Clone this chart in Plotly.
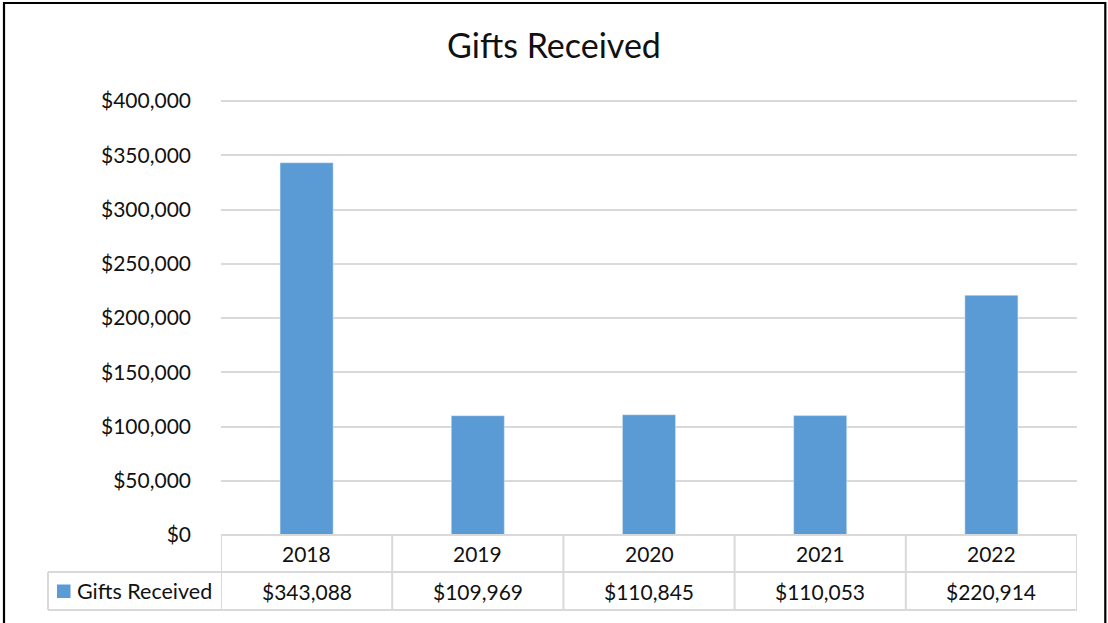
import plotly.graph_objects as go

years = ["2018", "2019", "2020", "2021", "2022"]
gifts = [343088, 109969, 110845, 110053, 220914]
series_name = "Gifts Received"
y_ticks = [0, 50000, 100000, 150000, 200000, 250000, 300000, 350000, 400000]
y_tick_labels = [f"${v:,}" for v in y_ticks]

W, H = 1108, 623
L, R, T, B = 221, 1077, 96, 535
PW, PH = R - L, B - T
BAR = "#5B9BD5"
GRID = "#D9D9D9"
FONT = "Lato"
TXT = "#111111"
# headroom so the top gridline (at pixel 101) is drawn fully
Y_TOP = y_ticks[-1] * PH / (B - 101)


def px_x(px):
    return (px - L) / PW


def px_y(py):
    return (B - py) / PH


cats = list(range(len(years)))

fig = go.Figure()
fig.add_trace(go.Bar(x=cats, y=gifts, marker_color=BAR, width=0.31,
                     name=series_name, showlegend=False, hoverinfo="skip"))

shapes = []
line = dict(color=GRID, width=2)
shapes.append(dict(type="line", xref="x", yref="paper", x0=-0.5, x1=len(years) - 0.5,
                   y0=px_y(535), y1=px_y(535), line=line))
for py in (572, 610):
    shapes.append(dict(type="line", xref="paper", yref="paper", x0=px_x(48), x1=1,
                       y0=px_y(py), y1=px_y(py), line=line))
for i in range(len(years) + 1):
    shapes.append(dict(type="line", xref="x", yref="paper", x0=i - 0.5, x1=i - 0.5,
                       y0=px_y(535), y1=px_y(610), line=line))
shapes.append(dict(type="line", xref="paper", yref="paper", x0=px_x(48), x1=px_x(48),
                   y0=px_y(572), y1=px_y(610), line=line))
shapes.append(dict(type="rect", xref="paper", yref="paper", x0=px_x(57), x1=px_x(70.5),
                   y0=px_y(598), y1=px_y(584.5), fillcolor=BAR, line=dict(width=0)))
shapes.append(dict(type="rect", xref="paper", yref="paper", x0=px_x(4), x1=px_x(1105.3),
                   y0=px_y(660), y1=px_y(3), line=dict(color="black", width=2.2),
                   fillcolor="rgba(0,0,0,0)", layer="above"))

annotations = []
for i, (yr, v) in enumerate(zip(years, gifts)):
    annotations.append(dict(x=i, xref="x", y=px_y(553.5), yref="paper", text=yr,
                            showarrow=False, font=dict(family=FONT, size=21, color=TXT),
                            xanchor="center", yanchor="middle"))
    annotations.append(dict(x=i, xref="x", y=px_y(591), yref="paper", text=f"${v:,}",
                            showarrow=False, font=dict(family=FONT, size=21, color=TXT),
                            xanchor="center", yanchor="middle"))
annotations.append(dict(x=px_x(75), xref="paper", y=px_y(591), yref="paper", text=series_name,
                        showarrow=False, font=dict(family=FONT, size=21.5, color=TXT),
                        xanchor="left", yanchor="middle"))

fig.update_layout(
    width=W, height=H,
    margin=dict(l=L, r=W - R, t=T, b=H - B, pad=0),
    paper_bgcolor="white", plot_bgcolor="white",
    title=dict(text="Gifts Received", x=0.5, xref="container", xanchor="center",
               y=1 - 46 / H, yref="container", yanchor="middle",
               font=dict(family=FONT, size=34, color=TXT)),
    xaxis=dict(type="linear", showticklabels=False, showgrid=False, zeroline=False,
               showline=False, ticks="", range=[-0.5, len(years) - 0.5], fixedrange=True),
    yaxis=dict(range=[0, Y_TOP], tickmode="array", tickvals=y_ticks, ticktext=y_tick_labels,
               showgrid=True, gridcolor=GRID, gridwidth=2, zeroline=False,
               showline=False, ticks="", ticklabelstandoff=29, fixedrange=True,
               tickfont=dict(family=FONT, size=21, color=TXT)),
    shapes=shapes, annotations=annotations,
    hovermode=False,
)

fig.write_html("out.html", config={"displayModeBar": False},
               post_script="document.body.style.margin='0';")
